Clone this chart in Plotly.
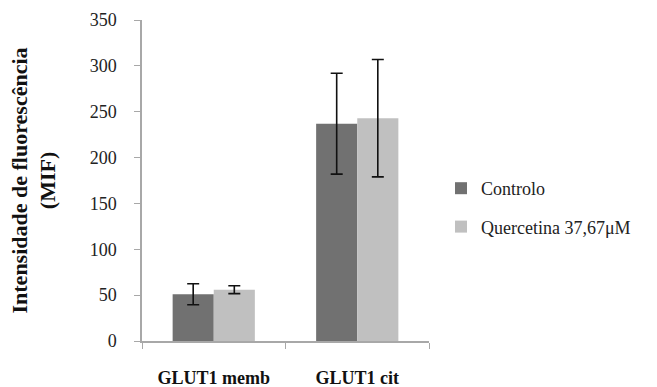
import plotly.graph_objects as go

categories = ["GLUT1 memb", "GLUT1 cit"]
series_names = ["Controlo", "Quercetina 37,67μM"]
controlo = [51, 237]
controlo_err = [11.5, 55]
quercetina = [56, 243]
quercetina_err = [4.3, 64]
y_ticks = [0, 50, 100, 150, 200, 250, 300, 350]

W, H = 657, 387
L, R, T, B = 142, 228, 20, 46
pw = W - L - R
ph = H - T - B

FONT = "Liberation Serif, Times New Roman, serif"

fig = go.Figure()
fig.add_trace(go.Bar(
    x=categories, y=controlo, name=series_names[0],
    marker=dict(color="#717171", line=dict(width=0)),
    error_y=dict(type="data", array=controlo_err, color="#111111", thickness=1.6, width=6),
    legendgroup="a",
))
fig.add_trace(go.Bar(
    x=categories, y=quercetina, name=series_names[1],
    marker=dict(color="#c0c0c0", line=dict(width=0)),
    error_y=dict(type="data", array=quercetina_err, color="#111111", thickness=1.6, width=6),
    legendgroup="b",
))

fig.update_layout(
    width=W, height=H,
    margin=dict(l=L, r=R, t=T, b=B, pad=0, autoexpand=False),
    paper_bgcolor="white", plot_bgcolor="white",
    barmode="group", bargap=0.427, bargroupgap=0,
    font=dict(family=FONT, color="#222222"),
    showlegend=True,
    legend=dict(
        x=(441 - L) / pw, xanchor="left", y=(341 - 170) / ph, yanchor="top",
        font=dict(family=FONT, size=18, color="#222222"),
        tracegroupgap=12, itemsizing="constant", itemwidth=30,
        bgcolor="rgba(0,0,0,0)",
    ),
)
fig.update_xaxes(
    showline=True, linecolor="#a8a8a8", linewidth=1.5,
    ticks="outside", tickson="boundaries", ticklen=6, tickcolor="#a8a8a8", tickwidth=1,
    tickfont=dict(family=FONT, size=18, color="#111111", weight="bold"),
    ticklabelstandoff=20, automargin=False,
    showgrid=False, zeroline=False,
)
fig.update_yaxes(
    range=[0, 350], tickvals=y_ticks,
    showline=True, linecolor="#a8a8a8", linewidth=1.5,
    ticks="outside", ticklen=6, tickcolor="#a8a8a8", tickwidth=1,
    tickfont=dict(family=FONT, size=18, color="#222222"),
    ticklabelstandoff=14, automargin=False,
    showgrid=False, zeroline=False,
)
fig.add_annotation(
    text="Intensidade de fluorescência<br>(MIF)",
    xref="paper", yref="paper", x=(33 - L) / pw, y=0.5,
    xanchor="center", yanchor="middle", textangle=-90, showarrow=False,
    font=dict(family=FONT, size=22, color="#111111", weight="bold"),
)

fig.write_html("out.html")
